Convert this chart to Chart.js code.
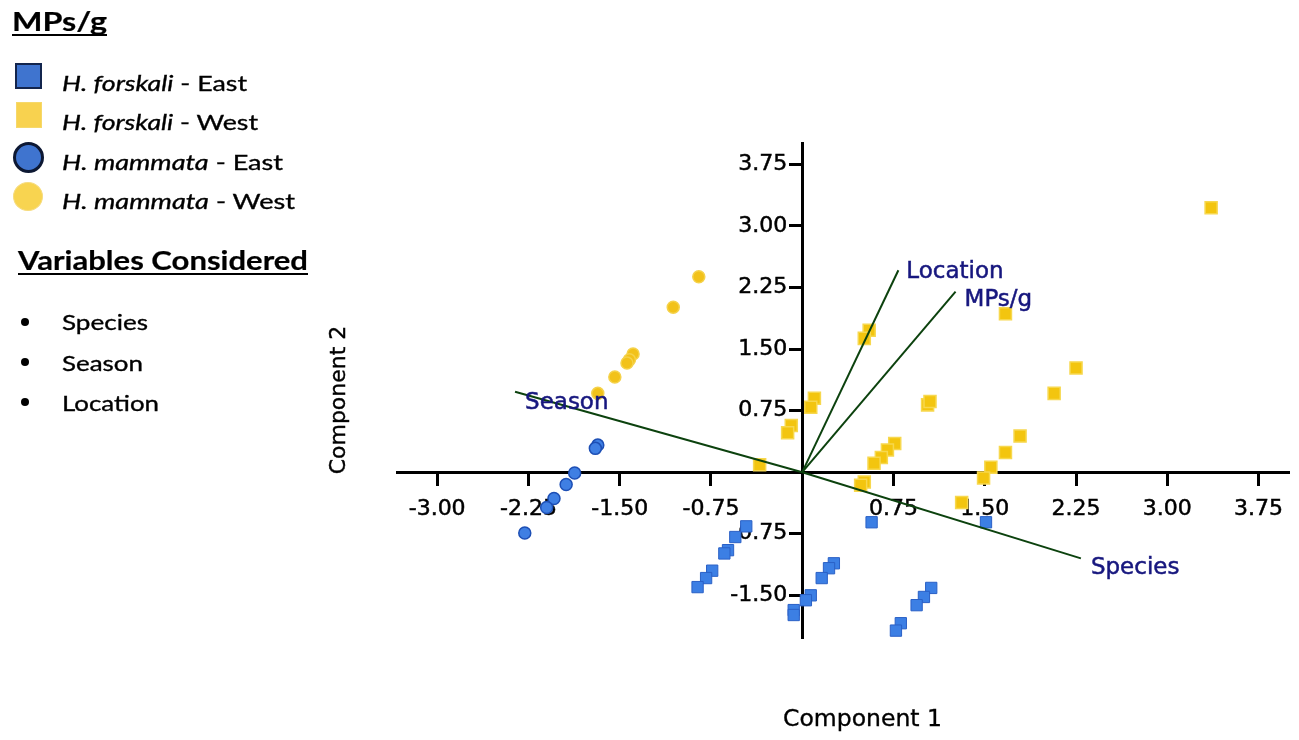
<!DOCTYPE html>
<html>
<head>
<meta charset="utf-8">
<script src="https://cdn.jsdelivr.net/npm/chart.js@4.4.1/dist/chart.umd.min.js"></script>
<style>
html,body{margin:0;padding:0;background:#fff;}
#wrap{position:relative;width:1299px;height:740px;overflow:hidden;background:#fff;}
#c{position:absolute;left:0;top:0;}
.t{position:absolute;white-space:nowrap;line-height:1;color:#000;transform-origin:0 50%;-webkit-text-stroke:0.35px #000;}
.lg{font-family:Lato,sans-serif;font-size:22px;}
.hd{font-family:Lato,sans-serif;font-size:27px;font-weight:bold;text-decoration:underline;text-decoration-thickness:2px;text-underline-offset:3px;text-decoration-skip-ink:none;-webkit-text-stroke:0.2px #000;}
.ax{font-family:'DejaVu Sans',sans-serif;}
.ic{position:absolute;box-sizing:border-box;}
.bul{position:absolute;width:8px;height:8px;border-radius:50%;background:#000;}
</style>
</head>
<body>
<div id="wrap">
<canvas id="c" width="1299" height="740"></canvas>
</div>
<script>
// ---------------- DATA ----------------
const xTickValues = [-3.00, -2.25, -1.50, -0.75, 0.75, 1.50, 2.25, 3.00, 3.75];
const yTickValues = [-1.50, -0.75, 0.75, 1.50, 2.25, 3.00, 3.75];

const seriesSpecies = ['H. forskali', 'H. forskali', 'H. mammata', 'H. mammata'];
const seriesSite = ['East', 'West', 'East', 'West'];
const legendTitle = 'MPs/g';
const variablesTitle = 'Variables Considered';
const variablesList = ['Species', 'Season', 'Location'];
const xAxisTitle = 'Component 1';
const yAxisTitle = 'Component 2';

// H. forskali - East (blue squares)
const hfEastX = [-0.46, -0.55, -0.61, -0.64, -0.74, -0.79, -0.86,
                 0.26, 0.22, 0.16, 0.07, 0.03, -0.07, -0.07,
                 1.06, 1.00, 0.94, 0.81, 0.77,
                 0.57, 1.51];
const hfEastY = [-0.66, -0.79, -0.95, -0.99, -1.20, -1.29, -1.40,
                 -1.11, -1.17, -1.29, -1.50, -1.56, -1.68, -1.74,
                 -1.41, -1.52, -1.62, -1.84, -1.93,
                 -0.61, -0.61];

// H. forskali - West (yellow squares)
const hfWestX = [0.55, 0.51, 0.10, 0.07, -0.09, -0.12, -0.35,
                 1.03, 1.05, 0.76, 0.70, 0.65, 0.59, 0.51, 0.48,
                 1.31, 3.36, 1.67, 2.25, 2.07, 1.79, 1.67, 1.55, 1.49];
const hfWestY = [1.73, 1.63, 0.90, 0.79, 0.57, 0.48, 0.09,
                 0.82, 0.86, 0.35, 0.27, 0.18, 0.11, -0.12, -0.16,
                 -0.37, 3.22, 1.93, 1.27, 0.96, 0.44, 0.24, 0.06, -0.07];

// H. mammata - East (blue circles)
const hmEastX = [-1.68, -1.70, -1.87, -1.94, -2.04, -2.10, -2.28];
const hmEastY = [0.33, 0.29, -0.01, -0.15, -0.32, -0.43, -0.74];

// H. mammata - West (yellow circles)
const hmWestX = [-0.85, -1.06, -1.39, -1.42, -1.44, -1.54, -1.68];
const hmWestY = [2.38, 2.01, 1.44, 1.37, 1.33, 1.16, 0.96];

// Loading vectors
const vectorNames = ['Location', 'MPs/g', 'Season', 'Species'];
const vectorX = [0.79, 1.26, -2.36, 2.29];
const vectorY = [2.46, 2.20, 0.98, -1.05];

// ---------------- HELPERS ----------------
const zip = (xs, ys) => xs.map((x, i) => ({x: x, y: ys[i]}));
const wrap = document.getElementById('wrap');

function addText(html, cls, left, top, targetW) {
  const d = document.createElement('div');
  d.className = 't ' + cls;
  d.innerHTML = html;
  d.style.left = left + 'px';
  d.style.top = top + 'px';
  wrap.appendChild(d);
  if (targetW) {
    const w = d.getBoundingClientRect().width;
    if (w > 0) d.style.transform = 'scaleX(' + (targetW / w) + ')';
  }
  return d;
}

// ---------------- LEFT LEGEND (HTML text) ----------------
addText(legendTitle, 'hd', 12, 7, 95);

const iconStyles = [
  {round: false, left: 15, top: 63, w: 27, h: 26, fill: '#3f74cf', border: '2.5px solid #13254d'},
  {round: false, left: 16, top: 102, w: 26, h: 26, fill: '#f8d24f', border: '1px solid #f6d86a'},
  {round: true, left: 13, top: 142, w: 31, h: 31, fill: '#3f74cf', border: '3px solid #0d1833'},
  {round: true, left: 13, top: 182, w: 30, h: 29, fill: '#f8d450', border: '1px solid #f6dc80'}
];
const legendRowTops = [71.5, 110.5, 150.5, 189.5];
const legendRowWidths = [185, 196, 221, 233];
seriesSpecies.forEach((sp, i) => {
  const s = iconStyles[i];
  const ic = document.createElement('div');
  ic.className = 'ic';
  ic.style.left = s.left + 'px'; ic.style.top = s.top + 'px';
  ic.style.width = s.w + 'px'; ic.style.height = s.h + 'px';
  ic.style.background = s.fill; ic.style.border = s.border;
  if (s.round) ic.style.borderRadius = '50%';
  wrap.appendChild(ic);
  addText('<i>' + sp + '</i> - ' + seriesSite[i], 'lg', 62, legendRowTops[i], legendRowWidths[i]);
});

addText(variablesTitle, 'hd', 18, 246, 290);
const varTops = [310.5, 351.5, 391.5];
const varWidths = [86, 81, 97];
const bulletY = [322, 362, 402];
variablesList.forEach((v, i) => {
  const b = document.createElement('div');
  b.className = 'bul';
  b.style.left = '21px'; b.style.top = (bulletY[i] - 4) + 'px';
  wrap.appendChild(b);
  addText(v, 'lg', 62, varTops[i], varWidths[i]);
});

// Axis titles
const t1 = document.createElement('div');
t1.className = 't ax';
t1.textContent = xAxisTitle;
t1.style.fontSize = '23px';
t1.style.left = '783px';
t1.style.top = '706.5px';
wrap.appendChild(t1);
{ const w = t1.getBoundingClientRect().width; t1.style.transform = 'scaleX(' + (159 / w) + ')'; }

const t2 = document.createElement('div');
t2.className = 't ax';
t2.textContent = yAxisTitle;
t2.style.fontSize = '22px';
t2.style.width = '160px';
t2.style.height = '22px';
t2.style.textAlign = 'center';
t2.style.left = (338 - 80) + 'px';
t2.style.top = (400 - 11) + 'px';
t2.style.transformOrigin = '50% 50%';
t2.style.transform = 'rotate(-90deg)';
wrap.appendChild(t2);

// ---------------- PLUGINS ----------------
const yLabelFix = {
  id: 'yLabelFix',
  beforeDraw(chart) {
    const s = chart.scales.y;
    const axisX = chart.scales.x.getPixelForValue(0);
    const items = s.getLabelItems();
    items.forEach(it => {
      if (it._fixed || !it.options || !it.options.translation) return;
      const t = it.options.translation;
      if (Math.abs(t[0] - axisX) < 2) t[0] -= 15;
      it._fixed = true;
    });
  }
};

const vectorLabelOffsets = [[8, 2], [9, 8], [10, 11], [10, 10]];
const vectorLabels = {
  id: 'vectorLabels',
  afterDraw(chart) {
    const ctx = chart.ctx;
    const xs = chart.scales.x, ys = chart.scales.y;
    ctx.save();
    ctx.font = '23px "DejaVu Sans"';
    ctx.fillStyle = '#16167e';
    ctx.strokeStyle = '#16167e';
    ctx.lineWidth = 0.5;
    ctx.textAlign = 'left';
    ctx.textBaseline = 'middle';
    vectorNames.forEach((n, i) => {
      const px = xs.getPixelForValue(vectorX[i]) + vectorLabelOffsets[i][0];
      const py = ys.getPixelForValue(vectorY[i]) + vectorLabelOffsets[i][1];
      ctx.strokeText(n, px, py);
      ctx.fillText(n, px, py);
    });
    ctx.restore();
  }
};

// ---------------- CHART ----------------
const vectorDatasets = vectorNames.map((n, i) => ({
  label: n,
  data: [{x: 0, y: 0}, {x: vectorX[i], y: vectorY[i]}],
  showLine: true,
  borderColor: '#0c420e',
  borderWidth: 2,
  pointRadius: 0,
  order: 0
}));

const tickFont = {size: 22, family: 'DejaVu Sans'};

new Chart(document.getElementById('c'), {
  type: 'scatter',
  data: {
    datasets: vectorDatasets.concat([
      {label: seriesSpecies[0] + ' - ' + seriesSite[0], data: zip(hfEastX, hfEastY),
       pointStyle: 'rect', pointRadius: 8, backgroundColor: '#3c7fe4', borderColor: '#2a60c6', borderWidth: 1, order: 1},
      {label: seriesSpecies[1] + ' - ' + seriesSite[1], data: zip(hfWestX, hfWestY),
       pointStyle: 'rect', pointRadius: 8.5, backgroundColor: '#f3c50f', borderColor: '#f7d84e', borderWidth: 1.5, order: 1},
      {label: seriesSpecies[2] + ' - ' + seriesSite[2], data: zip(hmEastX, hmEastY),
       pointStyle: 'circle', pointRadius: 6, backgroundColor: '#3f7fe3', borderColor: '#1d4fb5', borderWidth: 1.5, order: 1},
      {label: seriesSpecies[3] + ' - ' + seriesSite[3], data: zip(hmWestX, hmWestY),
       pointStyle: 'circle', pointRadius: 6, backgroundColor: '#f2c21a', borderColor: '#f5d24a', borderWidth: 1.5, order: 1}
    ])
  },
  options: {
    responsive: false,
    animation: false,
    events: [],
    layout: {padding: {left: 397, right: 9, top: 143, bottom: 102}},
    plugins: {legend: {display: false}, tooltip: {enabled: false}, title: {display: false}},
    scales: {
      x: {
        type: 'linear', position: {y: 0}, min: -3.33, max: 4.0, z: 1,
        afterBuildTicks: a => { a.ticks = xTickValues.map(v => ({value: v})); },
        ticks: {callback: v => Number(v).toFixed(2), font: tickFont, color: '#000',
                textStrokeColor: '#000', textStrokeWidth: 0.5,
                autoSkip: false, maxRotation: 0, minRotation: 0, padding: 12},
        grid: {drawOnChartArea: false, drawTicks: true, tickLength: 12, tickWidth: 3, tickColor: '#000'},
        border: {display: true, color: '#000', width: 3}
      },
      y: {
        type: 'linear', position: {x: 0}, min: -2.02, max: 4.01, z: 1,
        afterBuildTicks: a => { a.ticks = yTickValues.map(v => ({value: v})); },
        ticks: {callback: v => Number(v).toFixed(2), font: tickFont, color: '#000',
                textStrokeColor: '#000', textStrokeWidth: 0.5,
                autoSkip: false, padding: 2},
        grid: {drawOnChartArea: false, drawTicks: true, tickLength: 12, tickWidth: 3, tickColor: '#000'},
        border: {display: true, color: '#000', width: 3}
      }
    }
  },
  plugins: [yLabelFix, vectorLabels]
});
</script>
</body>
</html>
